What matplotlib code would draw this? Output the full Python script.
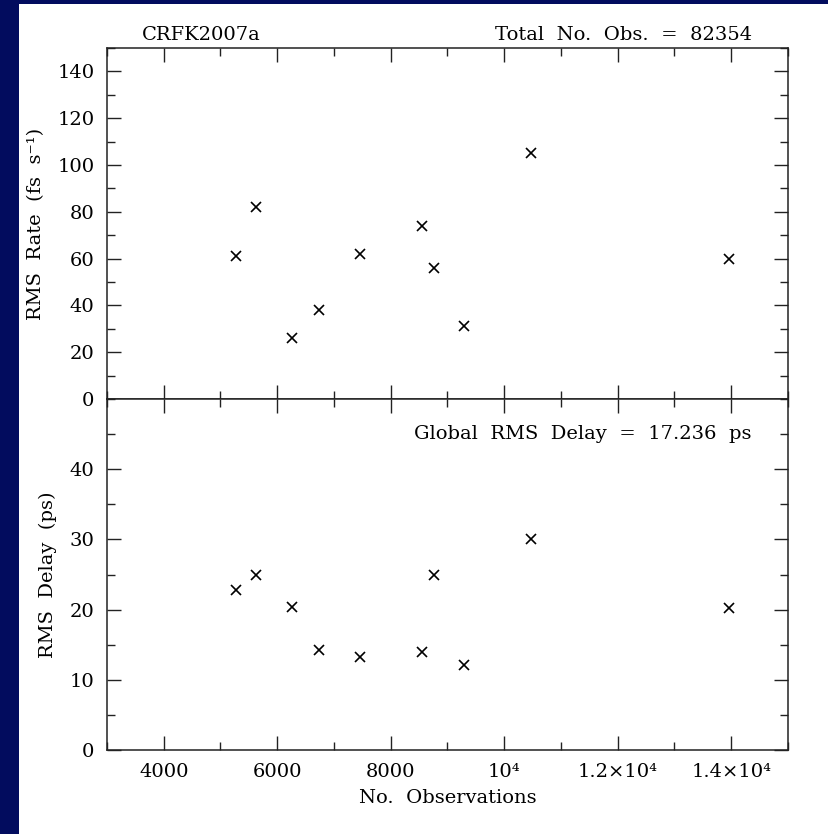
import matplotlib
matplotlib.use("Agg")
import matplotlib.pyplot as plt
from matplotlib.patches import Rectangle
from matplotlib.ticker import MultipleLocator

plt.rcParams['font.family'] = ['DejaVu Serif']

# per-baseline statistics
n_obs = [5275, 5625, 6260, 6740, 7460, 8550, 8755, 9290, 10475, 13965]
rms_rate = [61, 82, 26, 38, 62, 74, 56, 31, 105, 60]
rms_delay = [22.8, 25.0, 20.4, 14.2, 13.2, 13.9, 25.0, 12.1, 30.1, 20.2]

x_ticks = [4000, 6000, 8000, 10000, 12000, 14000]
x_tick_labels = ['4000', '6000', '8000', '10\u2074', '1.2\u00d710\u2074', '1.4\u00d710\u2074']
rate_ticks = [0, 20, 40, 60, 80, 100, 120, 140]
delay_ticks = [0, 10, 20, 30, 40]

session = 'CRFK2007a'
total_obs = 82354
global_rms_delay = 17.236

navy = '#020c5e'
ink = '#222222'
fs = 14

fig = plt.figure(figsize=(8.29, 8.34), dpi=100)
fig.patch.set_facecolor('white')
fig.patches.append(Rectangle((0, 0), 19 / 829, 1, transform=fig.transFigure,
                             facecolor=navy, edgecolor='none', zorder=-1))
fig.patches.append(Rectangle((0, 1 - 4 / 834), 1, 4 / 834, transform=fig.transFigure,
                             facecolor=navy, edgecolor='none', zorder=-1))

left, width = 0.129, 0.8215
ax1 = fig.add_axes([left, 0.5216, width, 0.4208])
ax2 = fig.add_axes([left, 0.1007, width, 0.4209], sharex=ax1)

for ax in (ax1, ax2):
    for sp in ax.spines.values():
        sp.set_color(ink)
        sp.set_linewidth(1.1)
    ax.tick_params(which='both', direction='in', top=True, right=True,
                   color=ink, width=1.0, labelsize=fs, pad=9)
    ax.tick_params(which='major', length=10)
    ax.tick_params(which='minor', length=5.5)
    ax.xaxis.set_minor_locator(MultipleLocator(1000))

ax1.plot(n_obs, rms_rate, 'x', color='black', markersize=7.5, markeredgewidth=1.2)
ax1.set_xlim(3000, 15000)
ax1.set_ylim(0, 150)
ax1.set_yticks(rate_ticks)
ax1.yaxis.set_minor_locator(MultipleLocator(10))
ax1.tick_params(labelbottom=False)
ax1.set_ylabel('RMS  Rate  (fs  s\u207b\u00b9)', fontsize=fs, labelpad=9)
ax1.text(0.051, 1.012, session, transform=ax1.transAxes, ha='left', va='bottom', fontsize=fs)
ax1.text(0.947, 1.012, f'Total  No.  Obs.  =  {total_obs}', transform=ax1.transAxes,
         ha='right', va='bottom', fontsize=fs)

ax2.plot(n_obs, rms_delay, 'x', color='black', markersize=7.5, markeredgewidth=1.2)
ax2.set_ylim(0, 50)
ax2.set_yticks(delay_ticks)
ax2.yaxis.set_minor_locator(MultipleLocator(5))
ax2.set_xticks(x_ticks)
ax2.set_xticklabels(x_tick_labels)
ax2.set_xlabel('No.  Observations', fontsize=fs, labelpad=6)
ax2.set_ylabel('RMS  Delay  (ps)', fontsize=fs, labelpad=9)
ax2.text(0.947, 0.9, f'Global  RMS  Delay  =  {global_rms_delay}  ps', transform=ax2.transAxes,
         ha='right', va='center', fontsize=fs)

fig.savefig('out.png', dpi=100)
